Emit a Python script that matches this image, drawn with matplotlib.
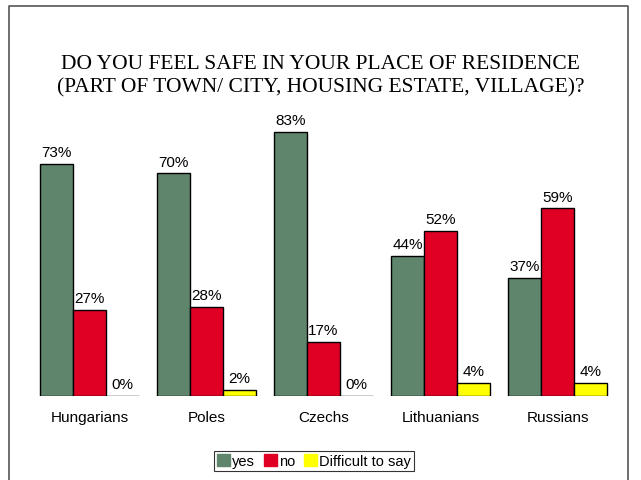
import numpy as np
import matplotlib
matplotlib.use("Agg")
import matplotlib.pyplot as plt
from matplotlib.patches import Rectangle
from matplotlib.lines import Line2D

# data
groups = ["Hungarians", "Poles", "Czechs", "Lithuanians", "Russians"]
yes = [73, 70, 83, 44, 37]
no = [27, 28, 17, 52, 59]
difficult = [0, 2, 0, 4, 4]
series_names = ["yes", "no", "Difficult to say"]
colors = ["#5f866c", "#e00024", "#ffff00"]

title = "DO YOU FEEL SAFE IN YOUR PLACE OF RESIDENCE\n(PART OF TOWN/ CITY, HOUSING ESTATE, VILLAGE)?"

W, H = 641, 481
fig = plt.figure(figsize=(W / 100, H / 100), dpi=100)

# outer frame (top, left, right)
fig.add_artist(Line2D([9 / W, 9 / W, 628 / W, 628 / W], [0, 1 - 7 / H, 1 - 7 / H, 0],
                      transform=fig.transFigure, color="#555555", lw=1.2))

ax_l, ax_r = 30, 620
ax = fig.add_axes([ax_l / W, (H - 397) / H, (ax_r - ax_l) / W, 318 / H])
px_per_unit = 117
x0 = 89.5
ax.set_xlim((ax_l - x0) / px_per_unit, (ax_r - x0) / px_per_unit)
ax.set_ylim(0, 100)
ax.axis("off")

w = 33 / px_per_unit
x = np.arange(len(groups))
for k, (vals, c) in enumerate(zip([yes, no, difficult], colors)):
    pos = x + (k - 1) * w
    ax.bar(pos, vals, width=w, color=c, edgecolor="black", linewidth=1.0)
    for p, v in zip(pos, vals):
        ax.annotate(f"{v}%", (p, v), xytext=(0, 3.5), textcoords="offset points",
                    ha="center", va="bottom", fontsize=11, family="Liberation Sans")

for xi, g in zip(x, groups):
    ax.annotate(g, (xi, 0), xytext=(0, -10), textcoords="offset points",
                ha="center", va="top", fontsize=11, family="Liberation Sans")

fig.text(0.5, 1 - 76 / H, title, ha="center", va="center", fontsize=15.5,
         family="Liberation Serif", linespacing=1.3)

handles = [Rectangle((0, 0), 1, 1, color=c) for c in colors]
leg = fig.legend(handles, series_names, loc="center", bbox_to_anchor=(314 / W, 1 - 462 / H),
                 ncol=3, frameon=True, fancybox=False, handlelength=0.9, handleheight=0.8,
                 handletextpad=0.15, columnspacing=0.6, borderpad=0.2,
                 prop={"family": "Liberation Sans", "size": 10.5})
leg.get_frame().set_edgecolor("black")
leg.get_frame().set_linewidth(0.8)

fig.savefig("out.png", dpi=100)
